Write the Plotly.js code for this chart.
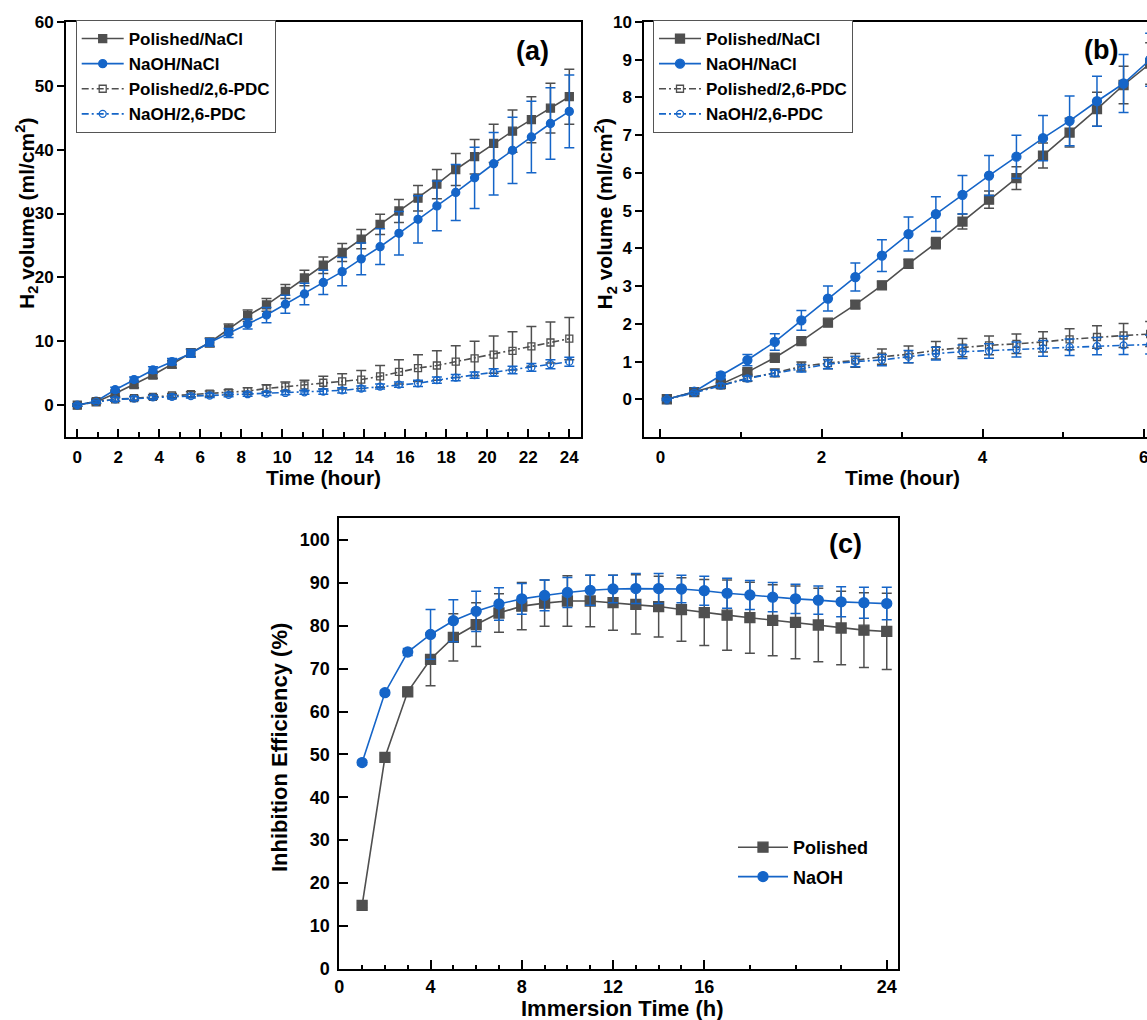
<!DOCTYPE html>
<html>
<head>
<meta charset="utf-8">
<script src="https://cdn.plot.ly/plotly-3.0.1.min.js"></script>
<style>
html,body{margin:0;padding:0;overflow:hidden;background:#fff;}
#chart{width:1200px;height:1020px;}
</style>
</head>
<body>
<div id="chart"></div>
<script>
// ---------- data ----------
const hoursA = [0, 0.92, 1.85, 2.77, 3.69, 4.62, 5.54, 6.46, 7.38, 8.31, 9.23, 10.15, 11.08, 12, 12.92, 13.85, 14.77, 15.69, 16.62, 17.54, 18.46, 19.38, 20.31, 21.23, 22.15, 23.08, 24];
const polNaClA = [0, 0.5, 1.8, 3.2, 4.7, 6.4, 8.2, 9.8, 11.9, 14.0, 15.7, 17.8, 19.9, 21.9, 23.9, 26.0, 28.3, 30.4, 32.4, 34.6, 36.9, 38.9, 41.0, 42.9, 44.7, 46.5, 48.3];
const polNaClAErr = [0.2, 0.3, 0.4, 0.5, 0.5, 0.6, 0.6, 0.7, 0.8, 0.9, 1.0, 1.1, 1.2, 1.3, 1.4, 1.5, 1.6, 1.8, 2.0, 2.3, 2.5, 2.7, 3.0, 3.3, 3.6, 3.9, 4.3];
const naohNaClA = [0, 0.6, 2.4, 4.0, 5.5, 6.8, 8.1, 9.8, 11.3, 12.7, 14.1, 15.8, 17.4, 19.2, 20.9, 22.9, 24.8, 26.9, 29.1, 31.2, 33.3, 35.6, 37.8, 39.9, 42.0, 44.1, 46.0];
const naohNaClAErr = [0.2, 0.3, 0.4, 0.4, 0.5, 0.5, 0.6, 0.6, 0.7, 0.8, 1.2, 1.4, 1.7, 1.9, 2.2, 2.5, 2.8, 3.4, 3.7, 3.9, 4.4, 4.8, 4.9, 5.2, 5.6, 5.6, 5.7];
const polPdcA = [0, 0.6, 0.9, 1.1, 1.3, 1.5, 1.7, 1.8, 2.0, 2.2, 2.6, 2.9, 3.1, 3.5, 3.7, 4.0, 4.5, 5.2, 5.8, 6.2, 6.8, 7.3, 7.9, 8.5, 9.2, 9.8, 10.4];
const polPdcAErr = [0.2, 0.3, 0.3, 0.3, 0.3, 0.3, 0.4, 0.4, 0.4, 0.5, 0.6, 0.7, 0.8, 1.0, 1.2, 1.4, 1.7, 1.9, 2.1, 2.3, 2.5, 2.7, 2.9, 3.0, 3.1, 3.2, 3.3];
const naohPdcA = [0, 0.5, 0.9, 1.0, 1.2, 1.3, 1.4, 1.5, 1.6, 1.7, 1.8, 1.9, 2.0, 2.1, 2.3, 2.6, 2.9, 3.2, 3.4, 3.9, 4.3, 4.7, 5.1, 5.5, 5.9, 6.4, 6.8];
const naohPdcAErr = [0.2, 0.2, 0.3, 0.3, 0.3, 0.3, 0.3, 0.3, 0.3, 0.3, 0.3, 0.3, 0.3, 0.4, 0.4, 0.4, 0.4, 0.4, 0.5, 0.5, 0.5, 0.5, 0.6, 0.6, 0.6, 0.7, 0.7];

const hoursB = [0.08, 0.42, 0.75, 1.08, 1.42, 1.75, 2.08, 2.42, 2.75, 3.08, 3.42, 3.75, 4.08, 4.42, 4.75, 5.08, 5.42, 5.75, 6.08];
const polNaClB = [0, 0.19, 0.4, 0.72, 1.1, 1.54, 2.03, 2.51, 3.02, 3.59, 4.14, 4.71, 5.29, 5.86, 6.46, 7.07, 7.69, 8.33, 8.9];
const polNaClBErr = [0.03, 0.04, 0.05, 0.06, 0.07, 0.08, 0.08, 0.1, 0.1, 0.12, 0.15, 0.2, 0.23, 0.3, 0.33, 0.38, 0.45, 0.5, 0.55];
const naohNaClB = [0, 0.2, 0.63, 1.04, 1.52, 2.09, 2.67, 3.24, 3.81, 4.38, 4.91, 5.42, 5.93, 6.43, 6.92, 7.38, 7.9, 8.37, 9.0];
const naohNaClBErr = [0.03, 0.04, 0.08, 0.15, 0.22, 0.26, 0.33, 0.37, 0.42, 0.45, 0.46, 0.51, 0.53, 0.57, 0.6, 0.66, 0.66, 0.77, 0.7];
const polPdcB = [0, 0.18, 0.37, 0.56, 0.7, 0.87, 0.96, 1.03, 1.13, 1.19, 1.3, 1.37, 1.43, 1.47, 1.52, 1.59, 1.65, 1.69, 1.73];
const polPdcBErr = [0.02, 0.04, 0.06, 0.08, 0.1, 0.12, 0.15, 0.18, 0.2, 0.22, 0.23, 0.24, 0.25, 0.26, 0.27, 0.28, 0.3, 0.32, 0.33];
const naohPdcB = [0, 0.17, 0.36, 0.55, 0.69, 0.82, 0.93, 1.0, 1.04, 1.13, 1.21, 1.26, 1.28, 1.32, 1.35, 1.38, 1.41, 1.43, 1.45];
const naohPdcBErr = [0.02, 0.04, 0.05, 0.06, 0.08, 0.1, 0.12, 0.14, 0.15, 0.16, 0.17, 0.18, 0.19, 0.2, 0.21, 0.22, 0.23, 0.24, 0.25];

const hoursC = [1, 2, 3, 4, 5, 6, 7, 8, 9, 10, 11, 12, 13, 14, 15, 16, 17, 18, 19, 20, 21, 22, 23, 24];
const polIE = [14.8, 49.3, 64.6, 72.2, 77.3, 80.3, 83.0, 84.6, 85.3, 85.8, 85.8, 85.4, 85.0, 84.5, 83.8, 83.1, 82.5, 81.9, 81.3, 80.8, 80.2, 79.5, 79.0, 78.7];
const polIEErr = [0.5, 0.5, 1.0, 6.2, 5.5, 5.1, 4.5, 5.5, 5.4, 5.9, 6.0, 6.4, 6.9, 7.1, 7.4, 7.7, 8.2, 8.3, 8.3, 8.5, 8.6, 8.6, 8.7, 8.9];
const naohIE = [48.1, 64.4, 73.9, 78.0, 81.2, 83.4, 85.1, 86.3, 87.1, 87.8, 88.3, 88.6, 88.7, 88.7, 88.6, 88.2, 87.6, 87.2, 86.7, 86.3, 86.0, 85.6, 85.4, 85.2];
const naohIEErr = [0.5, 0.5, 0.8, 5.8, 4.9, 4.7, 3.8, 3.6, 3.6, 3.5, 3.5, 3.2, 3.5, 3.5, 3.2, 3.4, 3.5, 3.4, 3.4, 3.4, 3.3, 3.5, 3.6, 3.8];

const namesAB = ['Polished/NaCl', 'NaOH/NaCl', 'Polished/2,6-PDC', 'NaOH/2,6-PDC'];
const namesC = ['Polished', 'NaOH'];
const ticksAx = [0, 2, 4, 6, 8, 10, 12, 14, 16, 18, 20, 22, 24];
const ticksAy = [0, 10, 20, 30, 40, 50, 60];
const ticksBx = [0, 2, 4, 6];
const ticksBy = [0, 1, 2, 3, 4, 5, 6, 7, 8, 9, 10];
const ticksCx = [0, 4, 8, 12, 16, 24];
const minorCx = [1, 2, 3, 5, 6, 7, 9, 10, 11, 13, 14, 15, 18, 20, 22];
const ticksCy = [0, 10, 20, 30, 40, 50, 60, 70, 80, 90, 100];

// ---------- styles ----------
const GRAY = '#4f4f4f';
const BLUE = '#1565c8';
const FONT = 'Liberation Sans, Arial, sans-serif';
const W = 1200, H = 1020;
const px = v => v / W;
const py = v => 1 - v / H;
const dashdot = '7px,3px,2px,3px';

function tr(x, y, err, name, color, sym, size, dash, xa, ya, leg, cap, group) {
  return {
    type: 'scatter', mode: 'lines+markers', x: x, y: y, name: name,
    xaxis: xa, yaxis: ya, legend: leg, legendgroup: group,
    line: {color: color, width: 1.6, dash: dash},
    marker: {symbol: sym, size: size, color: color, line: {color: color, width: 1.3}},
    error_y: {type: 'data', array: err, visible: true, color: color, thickness: 1.5, width: cap}
  };
}

const traces = [
  tr(hoursA, polNaClA, polNaClAErr, namesAB[0], GRAY, 'square', 8, 'solid', 'x', 'y', 'legend', 5),
  tr(hoursA, naohNaClA, naohNaClAErr, namesAB[1], BLUE, 'circle', 8, 'solid', 'x', 'y', 'legend', 5),
  tr(hoursA, polPdcA, polPdcAErr, namesAB[2], GRAY, 'square-open', 7, dashdot, 'x', 'y', 'legend', 5),
  tr(hoursA, naohPdcA, naohPdcAErr, namesAB[3], BLUE, 'circle-open', 7, dashdot, 'x', 'y', 'legend', 5),
  tr(hoursB, polNaClB, polNaClBErr, namesAB[0], GRAY, 'square', 9, 'solid', 'x2', 'y2', 'legend2', 5),
  tr(hoursB, naohNaClB, naohNaClBErr, namesAB[1], BLUE, 'circle', 9, 'solid', 'x2', 'y2', 'legend2', 5),
  tr(hoursB, polPdcB, polPdcBErr, namesAB[2], GRAY, 'square-open', 7, dashdot, 'x2', 'y2', 'legend2', 5),
  tr(hoursB, naohPdcB, naohPdcBErr, namesAB[3], BLUE, 'circle-open', 7, dashdot, 'x2', 'y2', 'legend2', 5),
  tr(hoursC, polIE, polIEErr, namesC[0], GRAY, 'square', 10, 'solid', 'x3', 'y3', 'legend3', 5, 'gP'),
  tr(hoursC, naohIE, naohIEErr, namesC[1], BLUE, 'circle', 10, 'solid', 'x3', 'y3', 'legend3', 5, 'gN')
];

function axis(domain, range, tickvals, opts) {
  return Object.assign({
    domain: domain, range: range, tickmode: 'array', tickvals: tickvals,
    showgrid: false, zeroline: false, showline: true, linecolor: '#000', linewidth: 2,
    mirror: true, ticks: 'inside', ticklen: 8, tickwidth: 2, tickcolor: '#000',
    tickfont: {family: FONT, size: 17, color: '#000', weight: 'bold'}
  }, opts || {});
}

const bold = (s) => ({family: FONT, size: s, color: '#000', weight: 'bold'});

function ann(text, x, y, size, angle) {
  return {text: text, x: px(x), y: py(y), xref: 'paper', yref: 'paper', showarrow: false,
    xanchor: 'center', yanchor: 'middle', textangle: angle || 0, font: bold(size)};
}

const layout = {
  width: W, height: H,
  margin: {l: 0, r: 0, t: 0, b: 0},
  paper_bgcolor: '#fff', plot_bgcolor: '#fff',
  font: {family: FONT, color: '#000'},
  showlegend: true,
  xaxis: axis([px(66), px(581)], [-0.55, 24.57], ticksAx, {anchor: 'y',
    minor: {dtick: 1, tick0: 0, ticks: 'inside', ticklen: 5, tickwidth: 2, tickcolor: '#000'}, ticklabelstandoff: 4}),
  yaxis: axis([py(437), py(22)], [-5, 60], ticksAy, {anchor: 'x', ticks: 'outside', ticklen: 7}),
  xaxis2: axis([px(644.3), px(1159)], [-0.2, 6.19], ticksBx, {anchor: 'y2',
    minor: {dtick: 1, tick0: 0, ticks: 'inside', ticklen: 5, tickwidth: 2, tickcolor: '#000'}, ticklabelstandoff: 4}),
  yaxis2: axis([py(437), py(22)], [-1, 10], ticksBy, {anchor: 'x2', ticks: 'outside', ticklen: 7}),
  xaxis3: axis([px(339.3), px(897.7)], [0, 24.48], ticksCx, {anchor: 'y3', ticklen: 9,
    tickfont: bold(18),
    minor: {tickmode: 'array', tickvals: minorCx, ticks: 'inside', ticklen: 4, tickwidth: 2, tickcolor: '#000'}, ticklabelstandoff: 1}),
  yaxis3: axis([py(968.7), py(518.3)], [0, 105.1], ticksCy, {anchor: 'x3', ticklen: 9,
    tickfont: bold(18), ticklabelstandoff: 4}),
  legend: {x: px(75.7), y: py(20), xanchor: 'left', yanchor: 'top', bgcolor: '#fff',
    bordercolor: '#555', borderwidth: 1, font: bold(17), itemwidth: 42, tracegroupgap: 0},
  legend2: {x: px(653), y: py(20), xanchor: 'left', yanchor: 'top', bgcolor: '#fff',
    bordercolor: '#555', borderwidth: 1, font: bold(17), itemwidth: 42, tracegroupgap: 0},
  legend3: {x: px(733), y: py(829), xanchor: 'left', yanchor: 'top', bgcolor: 'rgba(0,0,0,0)',
    borderwidth: 0, font: bold(18), itemwidth: 50, tracegroupgap: 3},
  annotations: [
    ann('(a)', 532.5, 51, 27),
    ann('(b)', 1100.5, 50, 27),
    ann('(c)', 845, 544, 27),
    ann('Time (hour)', 323.5, 477, 21),
    ann('Time (hour)', 902, 477, 21),
    ann('H<sub>2</sub> volume (ml/cm<sup>2</sup>)', 26, 214, 21, -90),
    ann('H<sub>2</sub> volume (ml/cm<sup>2</sup>)', 604.5, 214, 21, -90),
    ann('Inhibition Efficiency (%)', 279, 748, 22, -90),
    ann('Immersion Time (h)', 622, 1008, 22)
  ]
};

Plotly.newPlot('chart', traces, layout, {displayModeBar: false, staticPlot: true});
</script>
</body>
</html>
